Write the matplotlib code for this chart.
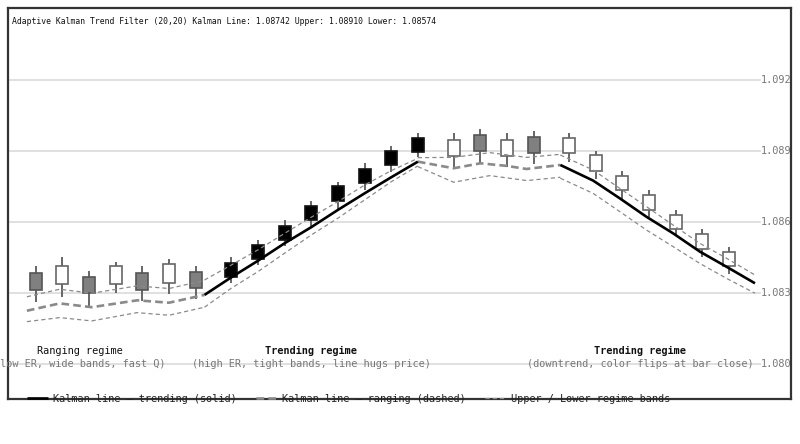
import matplotlib
matplotlib.use("Agg")
import matplotlib.pyplot as plt
from matplotlib.lines import Line2D
from matplotlib.patches import Rectangle

plt.rcParams['font.family'] = ['DejaVu Sans Mono', 'DejaVu Sans']
plt.rcParams['lines.scale_dashes'] = False

# ---------------- data ----------------
segment_sizes = [7, 8, 4, 7]
candle_kind = ['gray', 'white', 'gray', 'white', 'gray', 'white', 'gray',
               'black', 'black', 'black', 'black', 'black', 'black', 'black', 'black',
               'white', 'gray', 'white', 'gray',
               'white', 'white', 'white', 'white', 'white', 'white', 'white']
opens = [1.08383, 1.08338, 1.08369, 1.08338, 1.08383, 1.08344, 1.08390,
         1.08366, 1.08443, 1.08524, 1.08609, 1.08689, 1.08764, 1.08840, 1.08895,
         1.08880, 1.08968, 1.08880, 1.08961,
         1.08954, 1.08881, 1.08796, 1.08715, 1.08630, 1.08550, 1.08473]
closes = [1.08313, 1.08415, 1.08299, 1.08415, 1.08313, 1.08421, 1.08320,
          1.08428, 1.08503, 1.08585, 1.08669, 1.08750, 1.08826, 1.08902, 1.08957,
          1.08947, 1.08901, 1.08947, 1.08893,
          1.08891, 1.08817, 1.08736, 1.08651, 1.08569, 1.08486, 1.08414]
highs = [1.08414, 1.08451, 1.08393, 1.08430, 1.08414, 1.08443, 1.08414,
         1.08451, 1.08524, 1.08609, 1.08689, 1.08770, 1.08849, 1.08919, 1.08976,
         1.08976, 1.08992, 1.08976, 1.08985,
         1.08976, 1.08901, 1.08817, 1.08736, 1.08651, 1.08571, 1.08493]
lows = [1.08263, 1.08282, 1.08240, 1.08301, 1.08266, 1.08295, 1.08273,
        1.08341, 1.08418, 1.08500, 1.08583, 1.08654, 1.08736, 1.08812, 1.08874,
        1.08827, 1.08849, 1.08834, 1.08844,
        1.08855, 1.08781, 1.08693, 1.08620, 1.08545, 1.08451, 1.08380]

# Kalman line / bands per regime segment (x in bar units)
rng1_x = [-0.33, 0.9, 2.1, 3.8, 5.0, 6.33]
rng1_k = [1.08225, 1.08256, 1.08240, 1.08269, 1.08259, 1.08292]
rng1_u = [1.08284, 1.08316, 1.08299, 1.08330, 1.08319, 1.08353]
rng1_l = [1.08179, 1.08196, 1.08182, 1.08217, 1.08206, 1.08240]

up_x = [6.33, 7.33, 8.33, 9.33, 10.33, 11.33, 12.33, 13.33, 14.33]
up_k = [1.08292, 1.08366, 1.08436, 1.08510, 1.08578, 1.08651, 1.08721, 1.08789, 1.08855]
up_u = [1.08355, 1.08418, 1.08482, 1.08552, 1.08620, 1.08686, 1.08756, 1.08817, 1.08869]
up_l = [1.08240, 1.08320, 1.08390, 1.08468, 1.08545, 1.08616, 1.08693, 1.08770, 1.08837]

rng2_x = [14.33, 15.67, 16.67, 17.67, 18.4, 19.67]
rng2_k = [1.08855, 1.08827, 1.08848, 1.08837, 1.08824, 1.08841]
rng2_bx = [14.33, 15.67, 17.03, 18.41, 19.67]
rng2_u = [1.08872, 1.08873, 1.08893, 1.08873, 1.08886]
rng2_l = [1.08834, 1.08768, 1.08796, 1.08775, 1.08789]

dn_x = [19.67, 20.9, 21.9, 22.9, 23.9, 24.9, 25.9, 26.97]
dn_k = [1.08841, 1.08775, 1.08700, 1.08622, 1.08552, 1.08475, 1.08411, 1.08341]
dn_u = [1.08883, 1.08820, 1.08742, 1.08665, 1.08587, 1.08510, 1.08447, 1.08376]
dn_l = [1.08785, 1.08721, 1.08644, 1.08566, 1.08496, 1.08425, 1.08362, 1.08299]

grid_levels = [1.0920, 1.0890, 1.0860, 1.0830, 1.0800]
grid_labels = ['1.0920', '1.0890', '1.0860', '1.0830', '1.0800']

header = ("Adaptive Kalman Trend Filter (20,20) Kalman Line: 1.08742 "
          "Upper: 1.08910 Lower: 1.08574")
regimes = [
    (80, 'Ranging regime', 'normal', '(low ER, wide bands, fast Q)'),
    (311, 'Trending regime', 'bold', '(high ER, tight bands, line hugs price)'),
    (640, 'Trending regime', 'bold', '(downtrend, color flips at bar close)'),
]

# ---------------- figure ----------------
W, H = 800, 444
fig = plt.figure(figsize=(W / 100, H / 100), dpi=100)
L, R, T, B = 8, 791, 8, 399
ax = fig.add_axes([L / W, 1 - B / H, (R - L) / W, (B - T) / H])
ax.set_xlim(-1.039, 28.32)
ax.set_ylim(1.078521, 1.095042)
ax.set_xticks([])
ax.set_yticks([])
for s in ax.spines.values():
    s.set_color('#333333')
    s.set_linewidth(1.6)

grid_end = (760 - L) / (R - L)
for lv, lab in zip(grid_levels, grid_labels):
    ax.axhline(lv, xmin=0, xmax=grid_end, color='#dddddd', lw=1.3, zorder=0)
    ax.text((761 - L) / (R - L), lv, lab, transform=ax.get_yaxis_transform(),
            ha='left', va='center', fontsize=7.4, color='#777777', clip_on=True)

# candles
xs = []
idx = 0
for si, n in enumerate(segment_sizes):
    for j in range(n):
        xs.append(idx + si / 3.0)
        idx += 1

style = {'gray': ('#808080', '#555555'),
         'white': ('#ffffff', '#666666'),
         'black': ('#000000', '#111111')}
bw = 0.45
for x, o, c, h, l, k in zip(xs, opens, closes, highs, lows, candle_kind):
    fc, ec = style[k]
    ax.vlines(x, l, h, color='#666666', lw=1.4, zorder=2)
    lo, hi = min(o, c), max(o, c)
    ax.add_patch(Rectangle((x - bw / 2, lo), bw, hi - lo, facecolor=fc,
                           edgecolor=ec, lw=1.2, zorder=3))

band_kw = dict(color='#8a8a8a', lw=0.9, linestyle=(0, (3.0, 2.2)), zorder=4)
trend_kw = dict(color='#000000', lw=1.9, solid_capstyle='butt', zorder=5)
range_kw = dict(color='#8a8a8a', lw=1.9, linestyle=(0, (5.5, 3.0)), zorder=5)

ax.plot(rng1_x, rng1_u, **band_kw)
ax.plot(rng1_x, rng1_l, **band_kw)
ax.plot(up_x, up_u, **band_kw)
ax.plot(up_x, up_l, **band_kw)
ax.plot(rng2_bx, rng2_u, **band_kw)
ax.plot(rng2_bx, rng2_l, **band_kw)
ax.plot(dn_x, dn_u, **band_kw)
ax.plot(dn_x, dn_l, **band_kw)

ax.plot(rng1_x, rng1_k, **range_kw)
ax.plot(rng2_x, rng2_k, **range_kw)
ax.plot(up_x, up_k, **trend_kw)
ax.plot(dn_x, dn_k, **trend_kw)

# header
fig.text(11.7 / W, 1 - 22 / H, header, ha='left', va='center',
         fontsize=5.9, color='#111111')

# regime annotations
for px, title, weight, sub in regimes:
    fig.text(px / W, 1 - 351 / H, title, ha='center', va='center',
             fontsize=7.4, fontweight=weight, color='#111111')
    fig.text(px / W, 1 - 364 / H, sub, ha='center', va='center',
             fontsize=7.4, color='#777777')

# legend
handles = [Line2D([], [], **trend_kw),
           Line2D([], [], **range_kw),
           Line2D([], [], **band_kw)]
labels = ['Kalman line \u2014 trending (solid)',
          'Kalman line \u2014 ranging (dashed)',
          'Upper / Lower regime bands']
fig.legend(handles, labels, loc='center left', bbox_to_anchor=(27 / W, 1 - 399 / H),
           ncol=3, frameon=False, fontsize=7.4, handlelength=2.0,
           handletextpad=0.5, columnspacing=1.9, borderpad=0, borderaxespad=0,
           labelcolor='#222222')

fig.savefig('out.png', dpi=100)
